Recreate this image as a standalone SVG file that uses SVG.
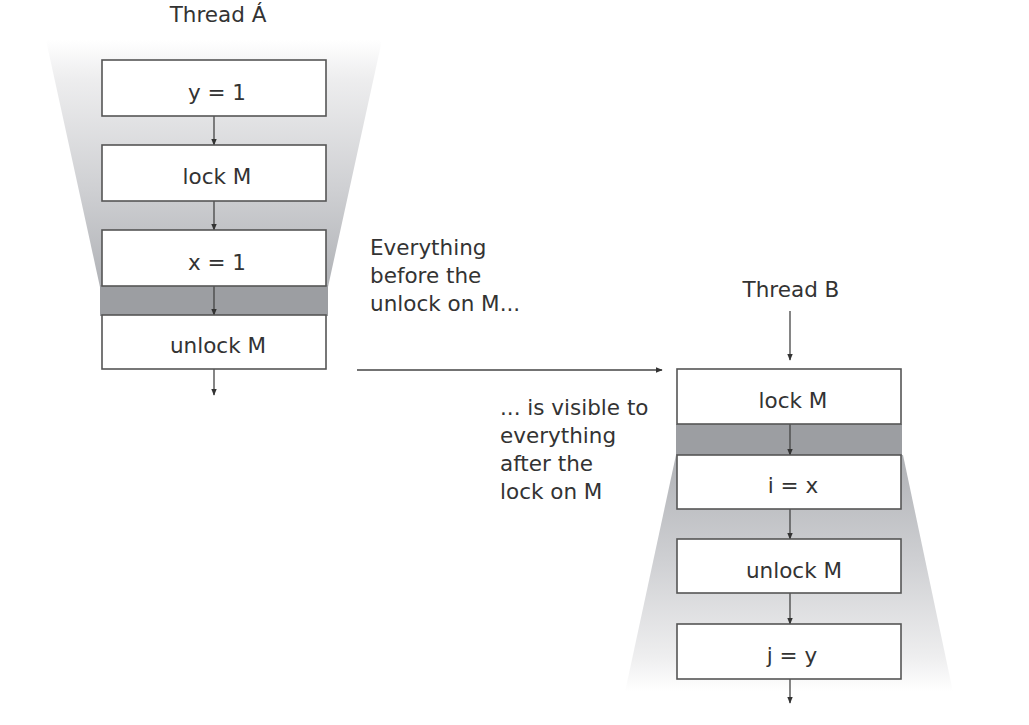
<svg xmlns="http://www.w3.org/2000/svg" width="1029" height="725" viewBox="0 0 1029 725">
<style>
  .box { fill: #ffffff; stroke: #555555; stroke-width: 1.6; }
  .lbl { font-family: "DejaVu Sans", Verdana, sans-serif; font-size: 21.5px; fill: #333333; }
  .ctr { text-anchor: middle; }
  .conn { stroke: #444444; stroke-width: 1.3; fill: none; marker-end: url(#ah); }
  .band { fill: #9c9ea2; }
</style>
<defs>
  <marker id="ah" viewBox="0 0 10 10" refX="9" refY="5" markerWidth="7" markerHeight="7" markerUnits="userSpaceOnUse" orient="auto">
    <path d="M0,1 L10,5 L0,9 Z" fill="#333333"/>
  </marker>
  <linearGradient id="gA" x1="0" y1="40" x2="0" y2="287" gradientUnits="userSpaceOnUse">
    <stop offset="0" stop-color="#ffffff"/>
    <stop offset="0.15" stop-color="#eeeeef"/>
    <stop offset="0.6" stop-color="#cfd0d3"/>
    <stop offset="1" stop-color="#b0b2b6"/>
  </linearGradient>
  <linearGradient id="gB" x1="0" y1="455" x2="0" y2="692" gradientUnits="userSpaceOnUse">
    <stop offset="0" stop-color="#b0b2b6"/>
    <stop offset="0.45" stop-color="#cfd0d3"/>
    <stop offset="0.85" stop-color="#eeeeef"/>
    <stop offset="1" stop-color="#ffffff"/>
  </linearGradient>
</defs>

<!-- background shading -->
<g id="shadeA">
  <polygon points="46,40 382,40 328,287 100,287" fill="url(#gA)"/>
  <rect class="band" x="100" y="285" width="228" height="31"/>
</g>
<g id="shadeB">
  <rect class="band" x="676" y="424" width="226" height="32"/>
  <polygon points="676,455 903,455 953,692 625,692" fill="url(#gB)"/>
</g>

<!-- free labels -->
<g id="threadA">
  <text class="lbl ctr" x="218" y="22">Thread Á</text>
</g>
<g id="threadB">
  <text class="lbl ctr" x="791" y="297">Thread B</text>
</g>
<g id="noteBefore">
  <text class="lbl" x="370" y="255">Everything</text>
  <text class="lbl" x="370" y="283">before the</text>
  <text class="lbl" x="370" y="311">unlock on M...</text>
</g>
<g id="noteAfter">
  <text class="lbl" x="500" y="415">... is visible to</text>
  <text class="lbl" x="500" y="443">everything</text>
  <text class="lbl" x="500" y="471">after the</text>
  <text class="lbl" x="500" y="499">lock on M</text>
</g>

<!-- connectors -->
<g id="connectors">
  <line class="conn" x1="214" y1="116" x2="214" y2="145"/>
  <line class="conn" x1="214" y1="201" x2="214" y2="230"/>
  <line class="conn" x1="214" y1="286" x2="214" y2="315"/>
  <line class="conn" x1="214" y1="369" x2="214" y2="395"/>
  <line class="conn" x1="357" y1="370" x2="662" y2="370"/>
  <line class="conn" x1="790" y1="311" x2="790" y2="360"/>
  <line class="conn" x1="790" y1="424" x2="790" y2="455"/>
  <line class="conn" x1="790" y1="509" x2="790" y2="539"/>
  <line class="conn" x1="790" y1="593" x2="790" y2="624"/>
  <line class="conn" x1="790" y1="679" x2="790" y2="703"/>
</g>

<!-- Thread A nodes -->
<g id="a1">
  <rect class="box" x="102" y="60" width="224" height="56"/>
  <text class="lbl ctr" x="217" y="100">y = 1</text>
</g>
<g id="a2">
  <rect class="box" x="102" y="145" width="224" height="56"/>
  <text class="lbl ctr" x="217" y="184">lock M</text>
</g>
<g id="a3">
  <rect class="box" x="102" y="230" width="224" height="56"/>
  <text class="lbl ctr" x="217" y="270">x = 1</text>
</g>
<g id="a4">
  <rect class="box" x="102" y="315" width="224" height="54"/>
  <text class="lbl ctr" x="218" y="353">unlock M</text>
</g>

<!-- Thread B nodes -->
<g id="b1">
  <rect class="box" x="677" y="369" width="224" height="55"/>
  <text class="lbl ctr" x="793" y="408">lock M</text>
</g>
<g id="b2">
  <rect class="box" x="677" y="455" width="224" height="54"/>
  <text class="lbl ctr" x="793" y="493">i = x</text>
</g>
<g id="b3">
  <rect class="box" x="677" y="539" width="224" height="54"/>
  <text class="lbl ctr" x="794" y="578">unlock M</text>
</g>
<g id="b4">
  <rect class="box" x="677" y="624" width="224" height="55"/>
  <text class="lbl ctr" x="792" y="663">j = y</text>
</g>
</svg>
